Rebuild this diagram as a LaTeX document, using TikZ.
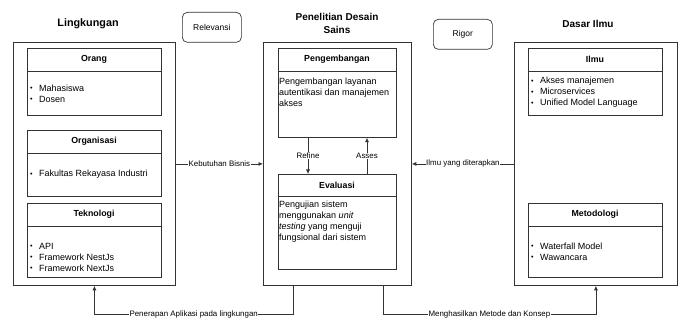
\documentclass[tikz,border=0pt]{standalone}
\usepackage{fontspec}
\setmainfont{Liberation Sans}
\usetikzlibrary{arrows.meta,positioning}
\tikzset{
  frame/.style={draw=black!80, line width=0.8pt, rectangle, anchor=north west, inner sep=0pt},
  rbox/.style={draw=black!80, line width=0.7pt, rounded corners=5pt, anchor=north west, inner sep=0pt},
  hline/.style={draw=black!80, line width=0.7pt},
  ttl/.style={font=\fontsize{10}{13}\selectfont\bfseries, align=center, inner sep=0pt},
  htl/.style={font=\fontsize{8.8}{11}\selectfont\bfseries, inner sep=0pt},
  body/.style={font=\fontsize{9}{11}\selectfont, align=left, anchor=west, inner sep=0pt},
  lbl/.style={font=\fontsize{7.9}{9}\selectfont, fill=white, inner sep=0.5pt},
  arr/.style={draw=black!80, line width=0.7pt, -{Latex[length=4.5pt,width=4pt]}},
}
\newcommand{\bul}{\makebox[9pt][l]{\raisebox{0.3pt}{\scalebox{0.8}{•}}}}
\begin{document}
\begin{tikzpicture}[x=1pt,y=-1pt]
\useasboundingbox (0,0) rectangle (681,320);
% titles
\node[ttl, font=\fontsize{10.8}{13}\selectfont\bfseries] (tL) at (88,24) {Lingkungan};
\node[ttl] (tC) at (337,23.5) {Penelitian Desain\\Sains};
\node[ttl] (tR) at (588,24) {Dasar Ilmu};
% Relevansi / Rigor
\node[rbox, minimum width=59pt, minimum height=30pt] (rel) at (182,12) {};
\node[font=\fontsize{8.5}{10}\selectfont] at (rel.center) {Relevansi};
\node[rbox, minimum width=59pt, minimum height=30pt] (rig) at (433,19) {};
\node[font=\fontsize{8.5}{10}\selectfont] at (rig.center) {Rigor};
% big boxes
\node[frame, minimum width=162pt, minimum height=243pt] (L) at (13,42) {};
\node[frame, minimum width=148pt, minimum height=243pt] (C) at (263,42) {};
\node[frame, minimum width=163pt, minimum height=243pt] (R) at (514,42) {};
% Orang
\node[frame, line width=0.7pt, minimum width=134pt, minimum height=67pt] (or) at (27,48) {};
\draw[hline] (27,71) -- (161,71);
\node[htl] at (94,59.5) {Orang};
\node[body] (orb) at (30,93.5) {\bul Mahasiswa\\\bul Dosen};
% Organisasi
\node[frame, line width=0.7pt, minimum width=134pt, minimum height=66pt] (og) at (27,130) {};
\draw[hline] (27,153) -- (161,153);
\node[htl] at (94,141.5) {Organisasi};
\node[body] (ogb) at (30,174) {\bul Fakultas Rekayasa Industri};
% Teknologi
\node[frame, line width=0.7pt, minimum width=134pt, minimum height=74pt] (tk) at (27,203) {};
\draw[hline] (27,226) -- (161,226);
\node[htl] at (94,214.5) {Teknologi};
\node[body] (tkb) at (30,257) {\bul API\\\bul Framework NestJs\\\bul Framework NextJs};
% Pengembangan
\node[frame, line width=0.7pt, minimum width=118pt, minimum height=89pt] (pg) at (278,48) {};
\draw[hline] (278,71) -- (396,71);
\node[htl] at (337,59.5) {Pengembangan};
\node[body] (pgb) at (279,92) {Pengembangan layanan\\autentikasi dan manajemen\\akses};
% Evaluasi
\node[frame, line width=0.7pt, minimum width=118pt, minimum height=95pt] (ev) at (278,174) {};
\draw[hline] (278,196) -- (396,196);
\node[htl] at (337,185) {Evaluasi};
\node[body] (evb) at (279,221.5) {Pengujian sistem\\menggunakan \textit{unit}\\\textit{testing} yang menguji\\fungsional dari sistem};
% Ilmu
\node[frame, line width=0.7pt, minimum width=134pt, minimum height=67pt] (il) at (528,48) {};
\draw[hline] (528,71) -- (662,71);
\node[htl] at (595,59.5) {Ilmu};
\node[body] (ilb) at (531,92) {\bul Akses manajemen\\\bul Microservices\\\bul Unified Model Language};
% Metodologi
\node[frame, line width=0.7pt, minimum width=134pt, minimum height=74pt] (mt) at (528,203) {};
\draw[hline] (528,226) -- (662,226);
\node[htl] at (595,214.5) {Metodologi};
\node[body] (mtb) at (531,251.5) {\bul Waterfall Model\\\bul Wawancara};
% connectors
\draw[arr] (L.east) -- node[lbl] {Kebutuhan Bisnis} (C.west);
\draw[arr] (R.west) -- node[lbl] {Ilmu yang diterapkan} (C.east);
\draw[arr] ([xshift=30]pg.south west) -- node[lbl] {Refine} ([xshift=30]ev.north west);
\draw[arr] ([xshift=89]ev.north west) -- node[lbl] {Asses} ([xshift=89]pg.south west);
\draw[arr] ([xshift=30]C.south west) -- ++(0,29) -| node[lbl, pos=0.25] {Penerapan Aplikasi pada lingkungan} (L.south);
\draw[arr] ([xshift=120]C.south west) -- ++(0,29) -| node[lbl, pos=0.25] {Menghasilkan Metode dan Konsep} (R.south);
\end{tikzpicture}
\end{document}
